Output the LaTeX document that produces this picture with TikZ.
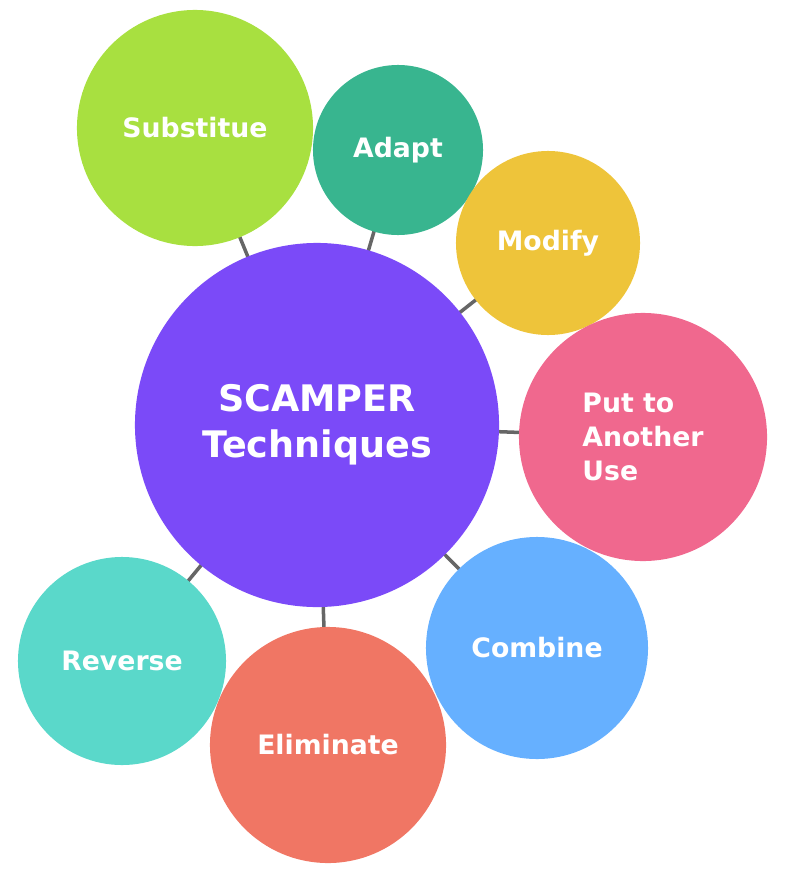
\documentclass[tikz,border=0pt]{standalone}
\usepackage{fontspec}
\setmainfont{DejaVu Sans}
\usetikzlibrary{backgrounds}
\definecolor{cCenter}{HTML}{7B4AF8}
\definecolor{cSubst}{HTML}{A8E040}
\definecolor{cAdapt}{HTML}{38B58F}
\definecolor{cModify}{HTML}{EEC43A}
\definecolor{cPut}{HTML}{F0688E}
\definecolor{cCombine}{HTML}{66B0FF}
\definecolor{cElim}{HTML}{F07664}
\definecolor{cRev}{HTML}{5AD8CA}
\begin{document}
\begin{tikzpicture}[x=0.025cm,y=-0.025cm]
  \tikzstyle{bubble}=[circle,inner sep=0pt,text=white,font=\bfseries\fontsize{19}{24}\selectfont,align=center]
  \tikzstyle{link}=[draw=black!60,line width=2.5pt]
  \useasboundingbox (0,0) rectangle (791,887);
  \node (hub) at (317,425) [bubble,fill=cCenter,minimum size=18.2cm*0.5,font=\bfseries\fontsize{26}{33}\selectfont] {SCAMPER\\Techniques};
  \node (subst) at (195,128) [bubble,fill=cSubst,minimum size=5.9cm] {Substitue};
  \node (adapt) at (398,150) [bubble,fill=cAdapt,minimum size=4.25cm] {Adapt};
  \node (modify) at (548,243) [bubble,fill=cModify,minimum size=4.6cm] {Modify};
  \node (put) at (643,437) [bubble,fill=cPut,minimum size=6.2cm,align=left] {Put to\\Another\\Use\phantom{ther}};
  \node (combine) at (537,648) [bubble,fill=cCombine,minimum size=5.55cm] {Combine};
  \node (elim) at (328,745) [bubble,fill=cElim,minimum size=5.9cm] {Eliminate};
  \node (rev) at (122,661) [bubble,fill=cRev,minimum size=5.2cm] {Reverse};

  \begin{scope}[on background layer]
    \foreach \n in {subst,adapt,modify,put,combine,elim,rev}
      \draw [link] (hub.center) -- (\n.center);
  \end{scope}
\end{tikzpicture}
\end{document}
